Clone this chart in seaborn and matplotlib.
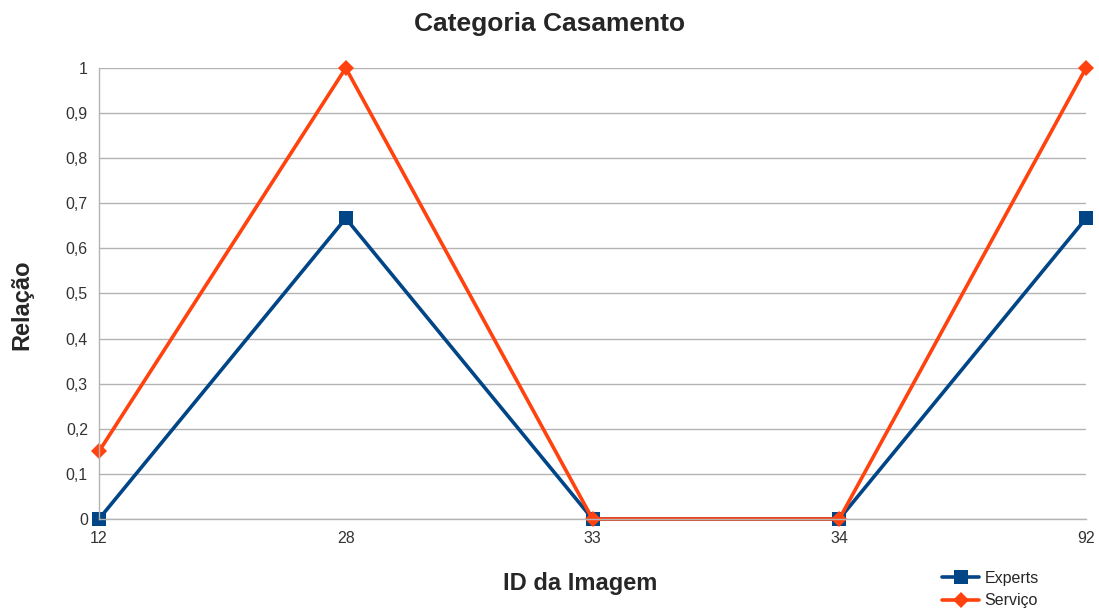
import matplotlib
matplotlib.use("Agg")
import matplotlib.pyplot as plt
import seaborn as sns
import pandas as pd

image_ids = ["12", "28", "33", "34", "92"]
experts = [0.0, 0.6667, 0.0, 0.0, 0.6667]
servico = [0.15, 1.0, 0.0, 0.0, 1.0]
y_ticks = [0, 0.1, 0.2, 0.3, 0.4, 0.5, 0.6, 0.7, 0.8, 0.9, 1]

sns.set_style("white")
plt.rcParams["font.family"] = ["Liberation Sans", "DejaVu Sans"]

pos = list(range(len(image_ids)))
df = pd.concat([
    pd.DataFrame({"pos": pos, "valor": experts, "serie": "Experts"}),
    pd.DataFrame({"pos": pos, "valor": servico, "serie": "Serviço"}),
])

fig = plt.figure(figsize=(10.99, 6.11), dpi=100)
ax = fig.add_axes([0.0901, 0.1506, 0.8981, 0.7381])

palette = {"Experts": "#004586", "Serviço": "#ff420e"}
markers = {"Experts": "s", "Serviço": "D"}
sizes = {"Experts": 10.5, "Serviço": 8}
for name, grp in df.groupby("serie", sort=False):
    sns.lineplot(data=grp, x="pos", y="valor", ax=ax, color=palette[name],
                 marker=markers[name], markersize=sizes[name],
                 markeredgewidth=0, linewidth=2.6, label=name, sort=False)
for line in ax.lines:
    line.set_clip_on(False)

ax.set_xlim(0, len(image_ids) - 1)
ax.set_ylim(0, 1)
ax.set_xticks(pos)
ax.set_xticklabels(image_ids)
ax.set_yticks(y_ticks)
ax.set_yticklabels([f"{t:g}".replace(".", ",") for t in y_ticks])
ax.yaxis.grid(True, color="#b3b3b3", linewidth=1)
ax.set_axisbelow(True)
for s in ["top", "right"]:
    ax.spines[s].set_visible(False)
for s in ["left", "bottom"]:
    ax.spines[s].set_color("#b3b3b3")
    ax.spines[s].set_linewidth(1)
ax.tick_params(axis="y", length=5, color="#b3b3b3", labelsize=11.5,
               labelcolor="#333333", pad=3)
ax.tick_params(axis="x", length=0, labelsize=11.5, labelcolor="#333333", pad=9)

ax.set_xlabel("ID da Imagem", fontsize=17, fontweight="bold")
ax.set_ylabel("Relação", fontsize=17, fontweight="bold")
ax.xaxis.set_label_coords(0.487, -0.118)
ax.yaxis.set_label_coords(-0.078, 0.475)
ax.yaxis.label.set_verticalalignment("center")
fig.text(0.5, 1 - 24 / 611, "Categoria Casamento", ha="center", va="center",
         fontsize=19, fontweight="bold")

ax.legend(loc="upper left", bbox_to_anchor=(0.848, -0.101), frameon=False,
          fontsize=11.5, handlelength=2.3, labelspacing=0.45,
          handletextpad=0.35, borderaxespad=0)

fig.savefig("out.png", dpi=100)
